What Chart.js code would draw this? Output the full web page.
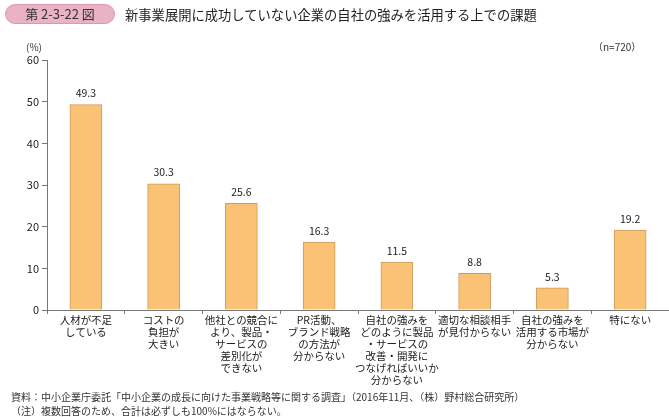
<!DOCTYPE html>
<html>
<head>
<meta charset="utf-8">
<script src="https://cdn.jsdelivr.net/npm/chart.js@4"></script>
<style>
  body { margin: 0; background: #fff; font-family: "Noto Sans CJK JP", sans-serif; }
  #wrap { position: relative; width: 669px; height: 417px; }
  #chart { position: absolute; left: 0; top: 0; }
  .badge { position: absolute; left: 5px; top: 4px; width: 110px; height: 20px; border-radius: 10px;
    background: #eab2c6; border: 1px solid #dc97b1; box-sizing: border-box; font-size: 13px; color: #333;
    text-align: center; line-height: 18px; }
  .title { position: absolute; left: 125px; top: 5px; font-size: 13.3px; color: #222; }
  .note { position: absolute; left: 11px; font-size: 10px; color: #333; }
</style>
</head>
<body>
<div id="wrap">
  <canvas id="chart" width="669" height="417"></canvas>
  <div class="badge">第 2-3-22 図</div>
  <div class="title">新事業展開に成功していない企業の自社の強みを活用する上での課題</div>
  <div class="note" style="top:389px">資料：中小企業庁委託「中小企業の成長に向けた事業戦略等に関する調査」（2016年11月、（株）野村総合研究所）</div>
  <div class="note" style="top:403px">（注）複数回答のため、合計は必ずしも100%にはならない。</div>
</div>
<script>
// categories (multi-line as in the original)
const categories = [
  ["人材が不足", "している"],
  ["コストの", "負担が", "大きい"],
  ["他社との競合に", "より、製品・", "サービスの", "差別化が", "できない"],
  ["PR活動、", "ブランド戦略", "の方法が", "分からない"],
  ["自社の強みを", "どのように製品", "・サービスの", "改善・開発に", "つなげればいいか", "分からない"],
  ["適切な相談相手", "が見付からない"],
  ["自社の強みを", "活用する市場が", "分からない"],
  ["特にない"],
];
const values = [49.3, 30.3, 25.6, 16.3, 11.5, 8.8, 5.3, 19.2];
const yTicks = [0, 10, 20, 30, 40, 50, 60];

const FONT = "'Noto Sans CJK JP', sans-serif";

const barLabels = {
  id: "barLabels",
  afterDatasetsDraw(chart) {
    const ctx = chart.ctx;
    const meta = chart.getDatasetMeta(0);
    ctx.save();
    ctx.font = "10.5px " + FONT;
    ctx.fillStyle = "#222";
    ctx.textAlign = "center";
    ctx.textBaseline = "bottom";
    meta.data.forEach((bar, i) => {
      ctx.fillText(values[i].toFixed(1), bar.x, bar.y - 6);
    });
    // unit and sample size
    ctx.font = "10px " + FONT;
    ctx.fillStyle = "#333";
    ctx.fillText("(%)", 34, 52);
    ctx.textAlign = "left";
    ctx.fillText("（n=720）", 593, 52);
    ctx.restore();
  },
};

new Chart(document.getElementById("chart"), {
  type: "bar",
  data: {
    labels: categories,
    datasets: [{
      data: values,
      backgroundColor: "#f9c274",
      borderColor: "#cf9a5c",
      borderWidth: 1,
      barThickness: 32,
    }],
  },
  options: {
    responsive: false,
    animation: false,
    layout: { padding: { top: 60, left: 0, right: 0, bottom: 0 } },
    plugins: { legend: { display: false }, tooltip: { enabled: false } },
    scales: {
      x: {
        afterFit: s => { s.height = 107; },
        border: { color: "#777" },
        grid: { offset: true, drawOnChartArea: false, drawTicks: true, tickLength: 4, color: "#777" },
        ticks: { color: "#222", font: { family: FONT, size: 10.5, lineHeight: 1.15 }, padding: 0, maxRotation: 0, autoSkip: false },
      },
      y: {
        min: 0,
        max: 60,
        afterFit: s => { s.width = 47; },
        afterBuildTicks: s => { s.ticks = yTicks.map(v => ({ value: v })); },
        border: { color: "#777" },
        grid: { drawOnChartArea: false, drawTicks: true, tickLength: 5, color: "#777" },
        ticks: { color: "#222", font: { family: FONT, size: 11 }, padding: 3 },
      },
    },
  },
  plugins: [barLabels],
});
</script>
</body>
</html>
